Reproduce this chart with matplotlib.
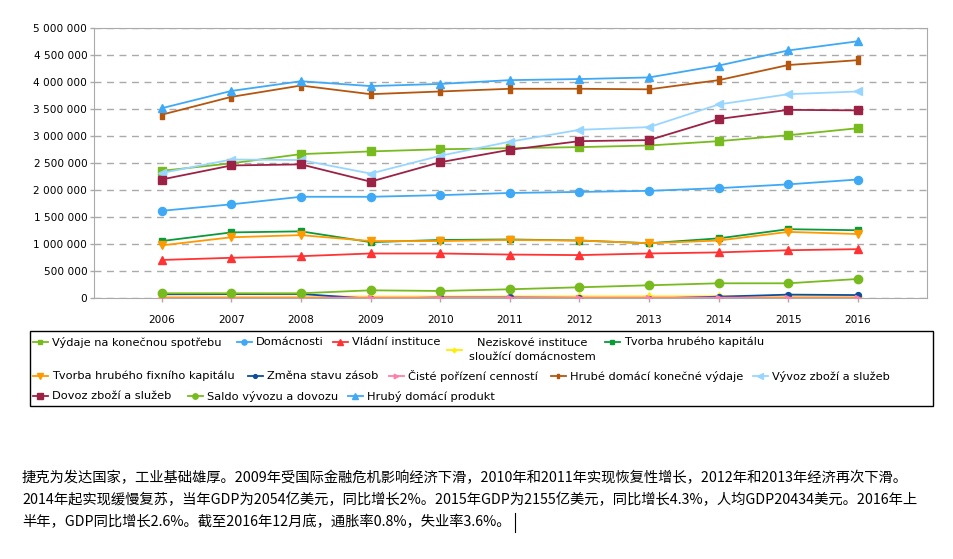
import matplotlib
matplotlib.use("Agg")
import matplotlib.pyplot as plt
from matplotlib.lines import Line2D
from matplotlib.patches import Rectangle
from matplotlib.path import Path
from matplotlib.ticker import FuncFormatter, MultipleLocator

# ── Data ─────────────────────────────────────────────────────────────────────
years = ["2006", "2007", "2008", "2009", "2010", "2011", "2012", "2013", "2014", "2015", "2016"]

vydaje_spotreba = [2360000, 2500000, 2670000, 2720000, 2760000, 2780000, 2800000, 2830000, 2910000, 3020000, 3150000]
domacnosti = [1620000, 1740000, 1880000, 1880000, 1910000, 1950000, 1970000, 1990000, 2040000, 2110000, 2200000]
vladni = [710000, 750000, 780000, 830000, 830000, 810000, 800000, 830000, 850000, 890000, 910000]
neziskove = [30000, 31000, 32000, 33000, 33000, 34000, 35000, 36000, 37000, 38000, 39000]
tvorba_kapitalu = [1060000, 1220000, 1240000, 1040000, 1080000, 1090000, 1070000, 1020000, 1110000, 1280000, 1260000]
tvorba_fixniho = [980000, 1130000, 1170000, 1060000, 1060000, 1080000, 1070000, 1020000, 1070000, 1230000, 1190000]
zmena_zasob = [75000, 78000, 80000, -8000, 15000, 15000, 8000, -5000, 30000, 68000, 60000]
cennosti = [10000, 10000, 10000, 12000, 12000, 12000, 12000, 12000, 12000, 12000, 12000]
hrube_vydaje = [3400000, 3730000, 3940000, 3780000, 3830000, 3880000, 3880000, 3870000, 4040000, 4320000, 4410000]
vyvoz = [2320000, 2570000, 2560000, 2310000, 2640000, 2900000, 3120000, 3170000, 3590000, 3780000, 3830000]
dovoz = [2200000, 2460000, 2480000, 2160000, 2520000, 2750000, 2910000, 2930000, 3320000, 3490000, 3480000]
saldo = [93000, 93000, 93000, 148000, 136000, 167000, 204000, 241000, 278000, 278000, 358000]
hdp = [3520000, 3840000, 4020000, 3930000, 3970000, 4040000, 4060000, 4090000, 4310000, 4590000, 4760000]

note_lines = [
    "捷克为发达国家，工业基础雄厚。2009年受国际金融危机影响经济下滑，2010年和2011年实现恢复性增长，2012年和2013年经济再次下滑。",
    "2014年起实现缓慢复苏，当年GDP为2054亿美元，同比增长2%。2015年GDP为2155亿美元，同比增长4.3%，人均GDP20434美元。2016年上",
    "半年，GDP同比增长2.6%。截至2016年12月底，通胀率0.8%，失业率3.6%。",
]

# vertical bar marker for "Hrubé domácí konečné výdaje"
vbar = Path([(-0.45, -1), (0.45, -1), (0.45, 1), (-0.45, 1), (-0.45, -1)],
            [Path.MOVETO, Path.LINETO, Path.LINETO, Path.LINETO, Path.CLOSEPOLY])

# (label, values, color, marker, markersize)
series = [
    ("Výdaje na konečnou spotřebu", vydaje_spotreba, "#77bb1f", "s", 5.5),
    ("Domácnosti", domacnosti, "#3fa9f5", "o", 5.8),
    ("Vládní instituce", vladni, "#ff3333", "^", 6),
    ("Neziskové instituce\nsloužící domácnostem", neziskove, "#ffee00", (4, 1, 0), 5.5),
    ("Tvorba hrubého kapitálu", tvorba_kapitalu, "#0a9a3a", "s", 4.5),
    ("Tvorba hrubého fixního kapitálu", tvorba_fixniho, "#ff9900", "v", 6),
    ("Změna stavu zásob", zmena_zasob, "#0d4d9e", "o", 4.2),
    ("Čisté pořízení cenností", cennosti, "#ff80a6", ">", 5),
    ("Hrubé domácí konečné výdaje", hrube_vydaje, "#b5560f", vbar, 5.5),
    ("Vývoz zboží a služeb", vyvoz, "#99d6ff", "<", 6),
    ("Dovoz zboží a služeb", dovoz, "#9b2245", "s", 6),
    ("Saldo vývozu a dovozu", saldo, "#77bb1f", "o", 6),
    ("Hrubý domácí produkt", hdp, "#3fa9f5", "^", 6),
]

# legend flow layout in pixels: (marker-left x, row y)
legend_pos = [
    (33, 342), (237, 342), (333, 342), (447, 350), (605, 342),
    (33, 376), (248, 376), (389, 376), (551, 376), (753, 376),
    (33, 396), (188, 396), (348, 396),
]

W, H = 954, 559
plt.rcParams["font.family"] = ["DejaVu Sans"]
fig = plt.figure(figsize=(W / 100, H / 100), dpi=100)
ax = fig.add_axes([94.3 / W, 1 - 298.3 / H, (926.7 - 94.3) / W, (298.3 - 28.3) / H])

x = list(range(len(years)))
for label, vals, color, marker, ms in series:
    ax.plot(x, vals, color=color, lw=1.3, marker=marker, ms=ms, mec=color, mfc=color, zorder=3)

ax.set_xlim(-0.968, 10.987)
ax.set_ylim(0, 5000000)
ax.set_xticks(x)
ax.set_xticklabels(years)
ax.yaxis.set_major_locator(MultipleLocator(500000))
ax.yaxis.set_major_formatter(FuncFormatter(lambda v, p: f"{int(v):,}".replace(",", " ")))
ax.grid(axis="y", color="#aaaaaa", ls=(0, (5, 4)), lw=1, zorder=1)
for s in ax.spines.values():
    s.set_color("#aaaaaa")
ax.tick_params(axis="y", length=3, width=1, color="#aaaaaa", pad=2, labelsize=7.6)
ax.tick_params(axis="x", length=3, width=1, color="#aaaaaa", pad=9, labelsize=7.6)

# ── Legend (flow layout, drawn by hand) ──────────────────────────────────────
def fx(px):
    return px / W

def fy(py):
    return 1 - py / H

fig.add_artist(Rectangle((fx(30), fy(406)), fx(933) - fx(30), fy(331) - fy(406),
                         transform=fig.transFigure, fill=False, ec="black", lw=1))
for (label, vals, color, marker, ms), (lx, ly) in zip(series, legend_pos):
    fig.add_artist(Line2D([fx(lx), fx(lx + 7.5), fx(lx + 15)], [fy(ly)] * 3,
                          transform=fig.transFigure, color=color, lw=1.3,
                          marker=marker, ms=ms * 0.65, mec=color, mfc=color, markevery=[1]))
    if "\n" in label:
        fig.text(fx(lx + 85), fy(ly), label, ha="center", va="center",
                 multialignment="center", fontsize=8.2, linespacing=1.5)
    else:
        fig.text(fx(lx + 19), fy(ly), label, ha="left", va="center", fontsize=8.2)

# ── Note text below the chart ────────────────────────────────────────────────
cjk = ["Noto Sans CJK SC", "DejaVu Sans"]
last = None
for i, line in enumerate(note_lines):
    last = fig.text(fx(22), fy(478 + 22 * i), line, ha="left", va="center",
                    fontsize=10.3, family=cjk)

fig.canvas.draw()
bb = last.get_window_extent()
cx = bb.x1 + 4
fig.add_artist(Line2D([cx / W, cx / W], [fy(532), fy(513)], transform=fig.transFigure,
                      color="black", lw=0.8))

fig.savefig("out.png", dpi=100)
